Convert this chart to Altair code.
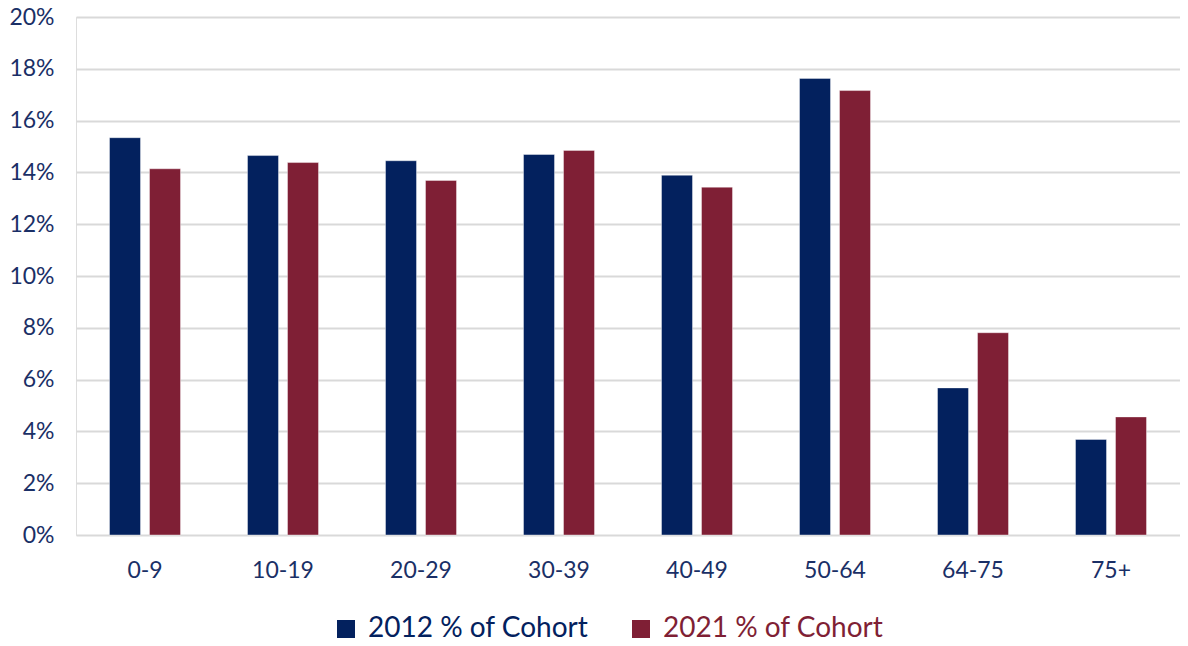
import altair as alt
import pandas as pd

categories = ["0-9", "10-19", "20-29", "30-39", "40-49", "50-64", "64-75", "75+"]
series_names = ["2012 % of Cohort", "2021 % of Cohort"]
values_2012 = [15.34, 14.65, 14.45, 14.69, 13.89, 17.63, 5.68, 3.69]
values_2021 = [14.14, 14.38, 13.69, 14.85, 13.43, 17.16, 7.81, 4.56]
y_ticks = [0, 2, 4, 6, 8, 10, 12, 14, 16, 18, 20]

rows = []
for c, a, b in zip(categories, values_2012, values_2021):
    rows.append({"group": c, "series": series_names[0], "value": a})
    rows.append({"group": c, "series": series_names[1], "value": b})
df = pd.DataFrame(rows)

NAVY = "#03215E"
MAROON = "#7F1F35"
TEXT = "#1A2F66"
FONT = "Lato"

chart = alt.Chart(df).mark_bar(
    stroke="white", strokeWidth=0.8, strokeOpacity=0.5
).encode(
    x=alt.X(
        "group:N",
        sort=categories,
        scale=alt.Scale(paddingInner=0, paddingOuter=0),
        axis=alt.Axis(
            title=None, labelAngle=0, labelFont=FONT, labelFontSize=23,
            labelColor=TEXT, ticks=False, domain=False, labelPadding=24,
            labelBaseline="top", grid=False,
        ),
    ),
    xOffset=alt.XOffset(
        "series:N", sort=series_names,
        scale=alt.Scale(paddingInner=0.225, paddingOuter=0.8375),
    ),
    y=alt.Y(
        "value:Q",
        scale=alt.Scale(domain=[0, 20], nice=False),
        axis=alt.Axis(
            title=None, values=y_ticks, labelExpr="datum.value + '%'",
            labelFont=FONT, labelFontSize=23, labelColor=TEXT,
            ticks=False, domain=False, labelPadding=22,
            gridColor="#D9D9D9", gridWidth=1.8,
        ),
    ),
    color=alt.Color(
        "series:N",
        sort=series_names,
        scale=alt.Scale(domain=series_names, range=[NAVY, MAROON]),
        legend=alt.Legend(
            title=None, orient="none", direction="horizontal",
            legendX=256, legendY=598,
            symbolType="square", symbolSize=324, symbolStrokeWidth=0,
            symbolOpacity=1,
            labelFont=FONT, labelFontSize=28, labelOffset=8,
            columnPadding=38, labelLimit=400,
            labelColor=alt.ExprRef(
                "datum.value === '2012 % of Cohort' ? '#03215E' : '#7F1F35'"
            ),
        ),
    ),
).properties(
    width=1104,
    height=518,
    autosize=alt.AutoSizeParams(type="none"),
    padding={"left": 68, "top": 9, "right": 0, "bottom": 106},
).configure_view(stroke=None).configure(background="white")

chart.save("out.html", embed_options={"renderer": "svg", "actions": False})
